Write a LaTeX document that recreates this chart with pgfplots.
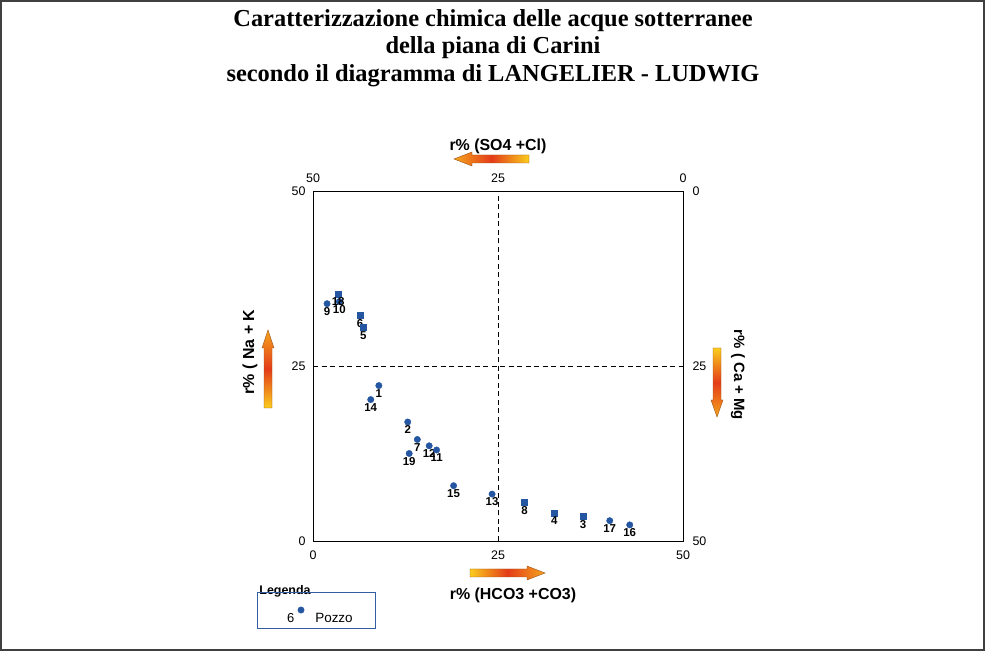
\documentclass[border=0pt]{standalone}
\usepackage{pgfplots}
\pgfplotsset{compat=1.18}
\usepackage{fontspec}
\setmainfont{Liberation Sans}
\newfontfamily\titlefont{Liberation Serif}
\definecolor{markblue}{RGB}{36,86,162}
\definecolor{legblue}{RGB}{52,92,160}
\definecolor{aryel}{RGB}{250,205,30}
\definecolor{arred}{RGB}{228,60,25}
\definecolor{arorg}{RGB}{245,165,30}
\definecolor{aredge}{RGB}{150,80,20}

\pgfplotstableread{
x y label
1.9 33.9 9
3.55 34.2 10
8.9 22.2 1
7.8 20.2 14
12.8 17.0 2
14.1 14.5 7
15.7 13.6 12
16.7 13.0 11
13.0 12.5 19
19.0 7.9 15
24.2 6.7 13
40.1 2.9 17
42.8 2.3 16
}\circtable

\pgfplotstableread{
x y label
3.4 35.3 18
6.35 32.2 6
6.8 30.5 5
28.6 5.5 8
32.6 4.0 4
36.5 3.5 3
}\sqtable

\begin{document}
\begin{tikzpicture}[x=1bp,y=1bp]
\path[use as bounding box] (0,0) rectangle (985,651);
\draw[black!75, line width=1.3bp] (0.9,0.9) rectangle (984.1,650.1);

% title
\node[font=\titlefont\bfseries\fontsize{24.5}{27.5}\selectfont, align=center] at (493,603)
  {Caratterizzazione chimica delle acque sotterranee\\della piana di Carini\\secondo il diagramma di LANGELIER - LUDWIG};

% secondary axis: top and right tick labels (reversed scales)
\begin{axis}[
  at={(313bp,110bp)}, anchor=south west,
  scale only axis, width=370bp, height=350bp,
  xmin=0, xmax=50, ymin=0, ymax=50,
  xtick={0,25,50}, xticklabels={50,25,0},
  ytick={0,25,50}, yticklabels={50,25,0},
  xtick pos=top, xticklabel pos=top,
  ytick pos=right, yticklabel pos=right,
  major tick length=0pt,
  axis line style={black, line width=0.9bp},
  tick label style={font=\fontsize{12.5}{12.5}\selectfont},
  xticklabel style={yshift=5bp},
  yticklabel style={xshift=6bp},
]
\end{axis}

% main axis
\begin{axis}[
  at={(313bp,110bp)}, anchor=south west,
  scale only axis, width=370bp, height=350bp,
  xmin=0, xmax=50, ymin=0, ymax=50,
  xtick={0,25,50}, ytick={0,25,50},
  xtick pos=bottom, xticklabel pos=bottom,
  ytick pos=left, yticklabel pos=left,
  major tick length=0pt,
  axis line style={black, line width=0.9bp},
  tick label style={font=\fontsize{12.5}{12.5}\selectfont},
  xticklabel style={yshift=-6bp},
  yticklabel style={xshift=-4bp},
  /pgf/number format/assume math mode=true,
  clip=false,
  nodes near coords style={anchor=north, inner sep=0.5bp, yshift=-3.2bp,
     font=\bfseries\fontsize{11.5}{11.5}\selectfont, text=black},
]
\draw[black, dashed, line width=0.9bp, dash pattern=on 5bp off 3.5bp] (axis cs:25,0) -- (axis cs:25,50);
\draw[black, dashed, line width=0.9bp, dash pattern=on 5bp off 3.5bp] (axis cs:0,25) -- (axis cs:50,25);
\addplot[only marks, mark=*, mark size=3.2bp, markblue, mark options={draw=markblue, fill=markblue},
  nodes near coords, point meta=explicit symbolic]
  table[x=x, y=y, meta=label] {\circtable};
\addplot[only marks, mark=square*, mark size=3bp, markblue, mark options={draw=markblue, fill=markblue},
  nodes near coords, point meta=explicit symbolic]
  table[x=x, y=y, meta=label] {\sqtable};
% legend symbol
\addplot[only marks, mark=*, mark size=3.2bp, markblue, mark options={draw=markblue, fill=markblue},
  nodes near coords, point meta=explicit symbolic,
  nodes near coords style={anchor=east, xshift=-6bp, yshift=-4.5bp, font=\fontsize{13}{13}\selectfont}]
  table[meta=label] {
x y label
-1.62 -9.86 6
};
\end{axis}

% legend box
\node[font=\bfseries\fontsize{12.5}{12.5}\selectfont] at (285,60) {Legenda};
\draw[legblue, line width=1bp] (257,58) rectangle (375,22);
\node[font=\fontsize{13.5}{13.5}\selectfont] at (334,33) {Pozzo};

% axis labels
\node[font=\bfseries\fontsize{16}{16}\selectfont] at (498,505) {r\% (SO4 +Cl)};
\node[font=\bfseries\fontsize{16}{16}\selectfont] at (513,56) {r\% (HCO3 +CO3)};
\node[font=\bfseries\fontsize{16}{16}\selectfont, rotate=90] at (250,299) {r\% ( Na + K};
\node[font=\bfseries\fontsize{15}{15}\selectfont, rotate=-90] at (738,276) {r\% ( Ca + Mg};

% arrows
\shade[left color=arorg, right color=aryel, middle color=arred, draw=aredge, line width=0.4bp]
  (529,496) -- (472,496) -- (472,499) -- (454,492) -- (472,485) -- (472,488) -- (529,488) -- cycle;
\shade[left color=aryel, right color=arorg, middle color=arred, draw=aredge, line width=0.4bp]
  (470,82) -- (527,82) -- (527,85) -- (545,78) -- (527,71) -- (527,74) -- (470,74) -- cycle;
\shade[bottom color=aryel, top color=arorg, middle color=arred, draw=aredge, line width=0.4bp]
  (264,243) -- (264,303) -- (262,303) -- (268,321) -- (274,303) -- (272,303) -- (272,243) -- cycle;
\shade[top color=aryel, bottom color=arorg, middle color=arred, draw=aredge, line width=0.4bp]
  (713,303) -- (713,251) -- (711,251) -- (717,234) -- (723,251) -- (721,251) -- (721,303) -- cycle;
\end{tikzpicture}
\end{document}
